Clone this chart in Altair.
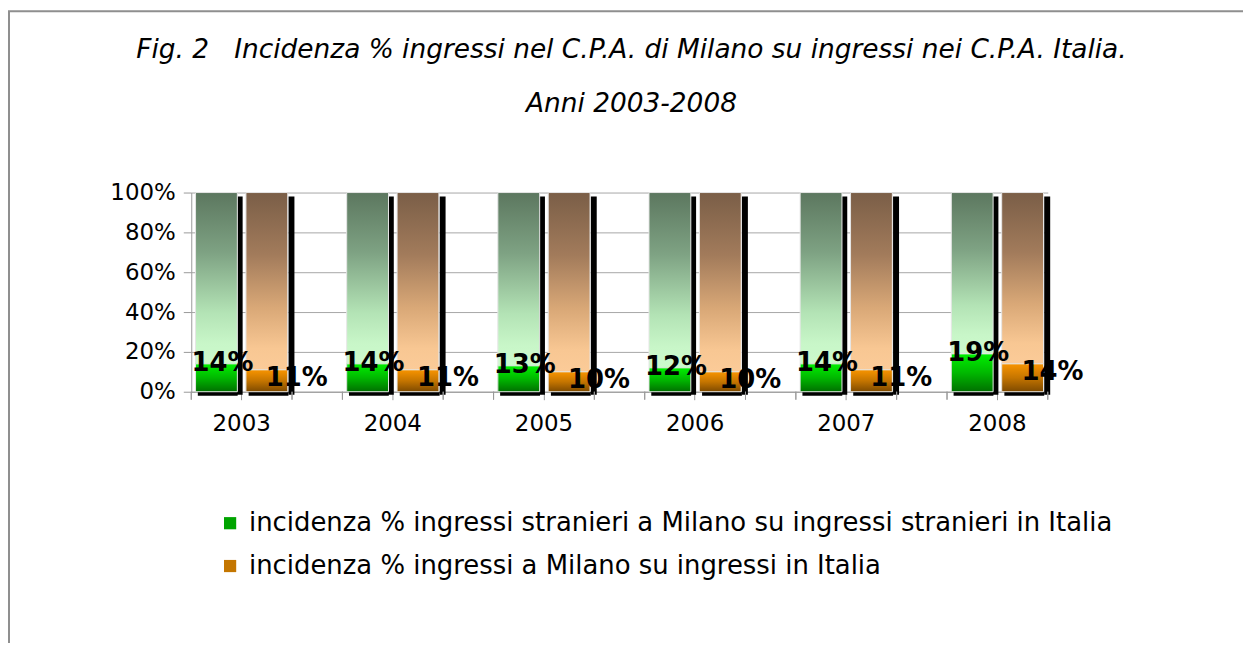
import altair as alt
import pandas as pd

years = ["2003", "2004", "2005", "2006", "2007", "2008"]
stranieri = [14, 14, 13, 12, 14, 19]
totale = [11, 11, 10, 10, 11, 14]
S1 = "incidenza % ingressi stranieri a Milano su ingressi stranieri in Italia"
S2 = "incidenza % ingressi a Milano su ingressi in Italia"
series_names = [S1, S2]
y_ticks = [0, 20, 40, 60, 80, 100]
title_lines = ["Fig. 2\u00a0\u00a0 Incidenza % ingressi nel C.P.A. di Milano su ingressi nei C.P.A. Italia.",
               "Anni 2003-2008"]

df = pd.DataFrame({
    "year": years * 2,
    "series": [S1] * len(years) + [S2] * len(years),
    "value": stranieri + totale,
})
df["label"] = df["value"].astype(str) + "%"

FONT = "DejaVu Sans"
GRID = "#a6a6a6"


def grad(stops):
    return alt.Gradient(gradient="linear", x1=0, y1=0, x2=0, y2=1,
                        stops=[alt.GradientStop(color=c, offset=o) for o, c in stops])


def grad_dict(stops):
    return {"gradient": "linear", "x1": 0, "y1": 0, "x2": 0, "y2": 1,
            "stops": [{"offset": o, "color": c} for o, c in stops]}


G_REST = [(0, "#5c775f"), (0.35, "#7ea283"), (0.7, "#b3e3b5"), (0.88, "#c8f6c8"), (1, "#ccfacc")]
O_REST = [(0, "#7a5e47"), (0.35, "#a27b5b"), (0.65, "#d9a877"), (0.88, "#f8c793"), (1, "#fbcb98")]
G_VAL = [(0, "#00f000"), (0.5, "#00b800"), (1, "#007000")]
O_VAL = [(0, "#f89400"), (0.5, "#c57500"), (1, "#7e4a00")]

AX_X = alt.Axis(title=None, labelAngle=0, labelAlign="center", labelBaseline="top",
                labelFont=FONT, labelFontSize=23, labelColor="black",
                tickColor="#999999", tickSize=8, ticks=True,
                domainColor="#999999", labelPadding=13, grid=False)
AX_Y = alt.Axis(title=None, values=y_ticks, labelExpr="datum.value + '%'",
                labelFont=FONT, labelFontSize=23, labelColor="black",
                tickColor="#999999", tickSize=8, labelPadding=8, labelOverlap=False,
                domainColor="#999999", gridColor=GRID, grid=True)
XSC = alt.Scale(paddingInner=1 / 3, paddingOuter=0)
YSC = alt.Scale(domain=[0, 100])


def X(**kw):
    return alt.X("year:N", sort=years, scale=XSC, axis=AX_X, **kw)


XO = alt.XOffset("series:N", sort=series_names,
                 scale=alt.Scale(domain=series_names, paddingInner=0.17, paddingOuter=0.085))
Y = alt.Y("value:Q", scale=YSC, axis=AX_Y)


def YD(v):
    return alt.YDatum(v, scale=YSC, axis=AX_Y)


base = alt.Chart(df)

frame = alt.Chart(pd.DataFrame({"a": [0]})).mark_rect(
    filled=False, stroke="#8f8f8f", strokeWidth=2
).encode(x=alt.value(-183), x2=alt.value(1100), y=alt.value(-182), y2=alt.value(900))


def shadows(series, dx_side, dx_bottom):
    ch = base.transform_filter(alt.datum.series == series)
    side = ch.mark_bar(color="black", width=6, xOffset=dx_side, y2Offset=3).encode(
        x=X(), y=YD(98), y2=alt.datum(0))
    bottom = ch.mark_bar(color="black", width=40, xOffset=dx_bottom, y2Offset=4).encode(
        x=X(), y=YD(0), y2=alt.datum(0))
    return [side, bottom]


def make_legend(with_encode):
    kw = dict(title=None, orient="none", legendX=26, legendY=319,
              direction="vertical", symbolType="square",
              symbolSize=150, symbolStrokeWidth=0,
              labelFont=FONT, labelFontSize=26, labelColor="black",
              labelLimit=1200, labelOffset=6, rowPadding=17)
    if with_encode:
        kw["encode"] = {"symbols": {"update": {"fill": [
            {"test": "datum.index === 0", "value": grad_dict(G_VAL)},
            {"value": grad_dict(O_VAL)}]}}}
    return alt.Legend(**kw)


def legend_layer(with_encode):
    return base.mark_bar().encode(
        x=X(), xOffset=XO, y=Y, y2=alt.datum(0),
        color=alt.Color("series:N", sort=series_names,
                        scale=alt.Scale(domain=series_names, range=["#00a400", "#c47600"]),
                        legend=make_legend(with_encode)))


def bars(series, stops, rest):
    ch = base.transform_filter(alt.datum.series == series)
    return ch.mark_bar(color=grad(stops), stroke="#e6e6e6", strokeWidth=1).encode(
        x=X(), xOffset=XO, y=Y, y2=alt.datum(100 if rest else 0))


def labels(series, dx, dy):
    return base.transform_filter(alt.datum.series == series).mark_text(
        font=FONT, fontSize=26, fontWeight="bold", color="black",
        align="center", baseline="middle", dx=dx, dy=dy
    ).encode(x=X(), xOffset=XO, y=Y, text="label:N")


tick0 = base.mark_rule(color="#999999", y2Offset=8).encode(
    x=X(bandPosition=0), y=YD(0), y2=alt.datum(0))
tick1 = base.mark_rule(color="#999999", y2Offset=8).encode(
    x=X(bandPosition=1), y=YD(0), y2=alt.datum(0))


def build(with_encode):
    layers = [frame] + shadows(S1, -2, -24) + shadows(S2, 50, 27) + [
        legend_layer(with_encode),
        bars(S1, G_REST, True), bars(S2, O_REST, True),
        bars(S1, G_VAL, False), bars(S2, O_VAL, False),
        labels(S1, 6, -1), labels(S2, 30, 8),
        tick0, tick1,
    ]
    return alt.layer(*layers).properties(
        width=860, height=200,
        autosize=alt.AutoSizeParams(type="none"),
        padding={"left": 184, "top": 184, "right": 196, "bottom": 251},
        title=alt.TitleParams(text=title_lines, font=FONT, fontSize=26.5, fontStyle="italic",
                              fontWeight="normal", color="black", anchor="middle",
                              lineHeight=55, offset=-108, dx=12),
    ).configure_view(stroke="transparent")


try:
    chart = build(True)
    chart.to_dict()
except Exception:
    chart = build(False)

chart.save("out.html", embed_options={"renderer": "svg", "actions": False})
